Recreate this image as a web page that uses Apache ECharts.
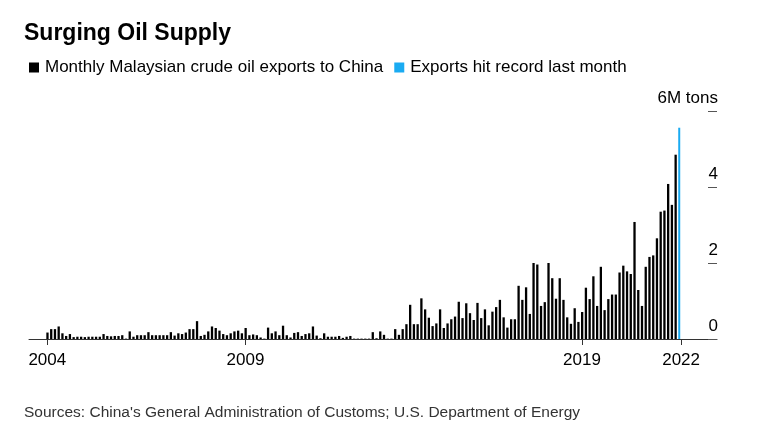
<!DOCTYPE html>
<html>
<head>
<meta charset="utf-8">
<script src="https://cdn.jsdelivr.net/npm/echarts@6/dist/echarts.min.js"></script>
<style>
  html, body { margin: 0; padding: 0; background: #fff; }
  #main { width: 764px; height: 446px; }
</style>
</head>
<body>
<div id="main"></div>
<script>
// monthly exports, million tons (bar by bar)
var exports = [
    0.17, 0.26, 0.26, 0.33, 0.15, 0.08, 0.13, 0.05, 0.06, 0.06,
    0.05, 0.06, 0.06, 0.06, 0.06, 0.13, 0.08, 0.07, 0.08, 0.08,
    0.10, 0.01, 0.20, 0.06, 0.10, 0.10, 0.10, 0.18, 0.10, 0.10,
    0.10, 0.10, 0.10, 0.18, 0.09, 0.15, 0.13, 0.17, 0.26, 0.26,
    0.47, 0.08, 0.11, 0.20, 0.33, 0.29, 0.22, 0.13, 0.10, 0.15,
    0.20, 0.22, 0.15, 0.29, 0.10, 0.12, 0.10, 0.04, 0.01, 0.30,
    0.15, 0.20, 0.10, 0.35, 0.10, 0.04, 0.16, 0.18, 0.08, 0.13,
    0.15, 0.33, 0.09, 0.02, 0.15, 0.06, 0.06, 0.06, 0.08, 0.03,
    0.06, 0.08, 0.01, 0.01, 0.01, 0.01, 0.01, 0.18, 0.02, 0.20,
    0.11, 0.01, 0.01, 0.26, 0.11, 0.26, 0.39, 0.90, 0.39, 0.39,
    1.07, 0.78, 0.56, 0.34, 0.41, 0.78, 0.29, 0.41, 0.52, 0.59,
    0.98, 0.55, 0.94, 0.68, 0.50, 0.95, 0.55, 0.78, 0.36, 0.72,
    0.84, 1.03, 0.57, 0.30, 0.52, 0.52, 1.40, 1.03, 1.36, 0.66,
    2.00, 1.96, 0.87, 0.97, 2.00, 1.60, 1.06, 1.60, 1.03, 0.57,
    0.40, 0.81, 0.45, 0.71, 1.35, 1.05, 1.65, 0.87, 1.90, 0.76,
    1.05, 1.17, 1.17, 1.75, 1.93, 1.78, 1.71, 3.08, 1.29, 0.87,
    1.90, 2.16, 2.20, 2.65, 3.35, 3.38, 4.08, 3.53, 4.85
];
var recordValue = 5.56;     // last month, the record

// x axis labels: bar position -> year
var yearTicks  = [0, 53, 143, 169.5];
var yearLabels = ['2004', '2009', '2019', '2022'];

var yTicks = [0, 2, 4, 6];

var font = 'Liberation Sans, Arial, Helvetica, sans-serif';

var blackData = exports.map(function (v, i) { return [i, v]; });
var blueData  = [[exports.length, recordValue]];

var myChart = echarts.init(document.getElementById('main'));
var option = {
    animation: false,
    backgroundColor: '#fff',
    textStyle: { fontFamily: font },
    title: [
        {
            text: 'Surging Oil Supply',
            left: 24,
            top: 22,
            padding: 0,
            textStyle: { fontFamily: font, fontSize: 23, fontWeight: 'bold', color: '#000' }
        },
        {
            text: "Sources: China's General Administration of Customs; U.S. Department of Energy",
            left: 24,
            top: 405,
            padding: 0,
            textStyle: { fontFamily: font, fontSize: 15.5, fontWeight: 'normal', color: '#333' }
        }
    ],
    legend: {
        left: 29,
        top: 59,
        padding: 0,
        icon: 'rect',
        itemWidth: 10,
        itemHeight: 10,
        itemGap: 11,
        selectedMode: false,
        textStyle: { fontFamily: font, fontSize: 17, color: '#000', padding: [0, 0, 0, 1] },
        data: ['Monthly Malaysian crude oil exports to China', 'Exports hit record last month']
    },
    grid: {
        left: 29,
        right: 47,
        top: 111,
        bottom: 107
    },
    xAxis: {
        type: 'value',
        min: -4.9,
        max: 179.1,
        splitLine: { show: false },
        axisLine: { show: true, lineStyle: { color: '#333', width: 1 } },
        axisTick: {
            show: true,
            customValues: yearTicks,
            length: 6,
            lineStyle: { color: '#333', width: 1 }
        },
        axisLabel: {
            customValues: yearTicks,
            margin: 13,
            fontSize: 17,
            color: '#000',
            fontFamily: font,
            formatter: function (v) {
                var k = yearTicks.indexOf(v);
                return k >= 0 ? yearLabels[k] : '';
            }
        }
    },
    yAxis: {
        type: 'value',
        position: 'right',
        offset: -9,
        min: 0,
        max: 6,
        interval: 2,
        splitLine: { show: false },
        axisLine: { show: false, onZero: false },
        axisTick: {
            show: true,
            length: 9,
            lineStyle: { color: '#555', width: 1 }
        },
        axisLabel: {
            margin: 10,
            align: 'right',
            verticalAlign: 'bottom',
            padding: [0, 0, 4, 0],
            fontSize: 17,
            color: '#000',
            fontFamily: font,
            formatter: function (v) {
                return v === yTicks[yTicks.length - 1] ? v + 'M tons' : String(v);
            }
        }
    },
    series: [
        {
            name: 'Monthly Malaysian crude oil exports to China',
            type: 'bar',
            barWidth: 2.3,
            barGap: '-100%',
            itemStyle: { color: '#000' },
            data: blackData
        },
        {
            name: 'Exports hit record last month',
            type: 'bar',
            barWidth: 2,
            barGap: '-100%',
            itemStyle: { color: '#1aabf2' },
            data: blueData
        }
    ]
};
myChart.setOption(option);
</script>
</body>
</html>
